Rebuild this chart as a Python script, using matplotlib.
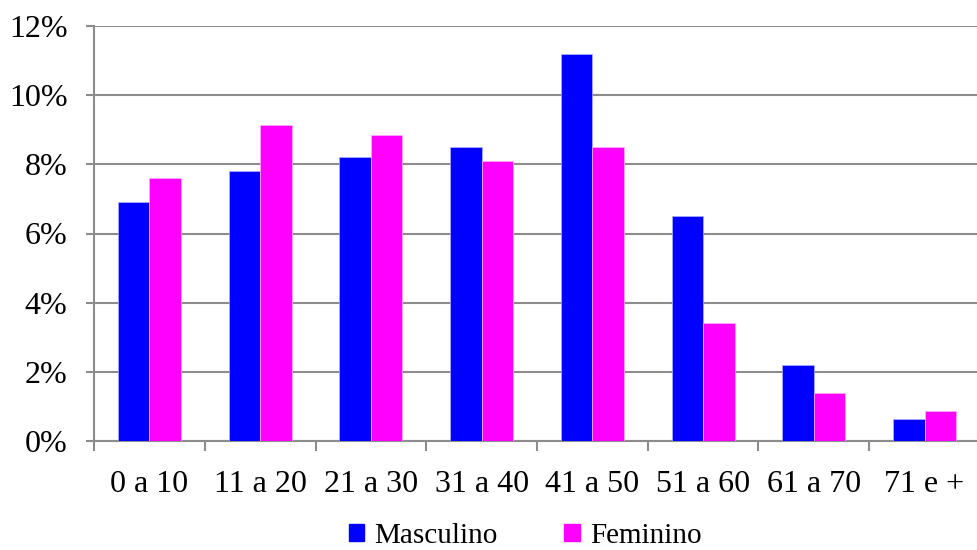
import numpy as np
import matplotlib.pyplot as plt
import matplotlib.ticker as mtick
import matplotlib.patches as mpatches

plt.rcParams['font.family'] = ['Liberation Serif', 'DejaVu Serif']

categories = ['0 a 10', '11 a 20', '21 a 30', '31 a 40', '41 a 50', '51 a 60', '61 a 70', '71 e +']
masculino = [6.9, 7.8, 8.2, 8.5, 11.2, 6.5, 2.2, 0.65]
feminino = [7.6, 9.15, 8.85, 8.1, 8.5, 3.4, 1.4, 0.87]
series_labels = ['Masculino', 'Feminino']
colors = ['#0000FF', '#FF00FF']

grid_color = '#8c8c8c'
bar_width = 0.285

fig = plt.figure(figsize=(9.77, 5.5), dpi=100)
ax = fig.add_axes([94/977, 1 - 441/550, 886/977, 415/550])

x = np.arange(len(categories))
ax.bar(x - bar_width/2, masculino, bar_width, color=colors[0], edgecolor='#b0b0ff', linewidth=0.5, zorder=3)
ax.bar(x + bar_width/2, feminino, bar_width, color=colors[1], edgecolor='#ffb0ff', linewidth=0.5, zorder=3)

ax.set_xlim(-0.5, len(categories) - 0.5)
ax.set_ylim(0, 12)
ax.set_yticks(np.arange(0, 13, 2))
ax.yaxis.set_major_formatter(mtick.FuncFormatter(lambda v, p: '%d%%' % v))
ax.grid(axis='y', color=grid_color, linewidth=1.5, zorder=0)

# category labels centred, tick marks on the boundaries
ax.set_xticks(np.arange(-0.5, len(categories)), minor=False)
ax.set_xticklabels([])
ax.set_xticks(x, minor=True)
ax.set_xticklabels(categories, minor=True)
ax.tick_params(axis='x', which='major', direction='out', length=7.5, width=1.5, color=grid_color)
ax.tick_params(axis='x', which='minor', length=0, pad=21, labelsize=23)
ax.tick_params(axis='y', direction='out', length=6, width=1.5, color=grid_color, pad=13, labelsize=23)

for side in ['top', 'right']:
    ax.spines[side].set_visible(False)
for side in ['left', 'bottom']:
    ax.spines[side].set_color(grid_color)
    ax.spines[side].set_linewidth(1.5)

patches = []
for color, lbl in zip(colors, series_labels):
    patches.append(mpatches.Patch(color=color, label=lbl))
fig.legend(handles=patches, loc='center', bbox_to_anchor=(525/977, 1 - 536/550), ncol=2,
           frameon=False, fontsize=21, handlelength=0.52, handleheight=0.52,
           handletextpad=0.35, columnspacing=2.3, borderaxespad=0.)

plt.savefig('out.png', dpi=100)
